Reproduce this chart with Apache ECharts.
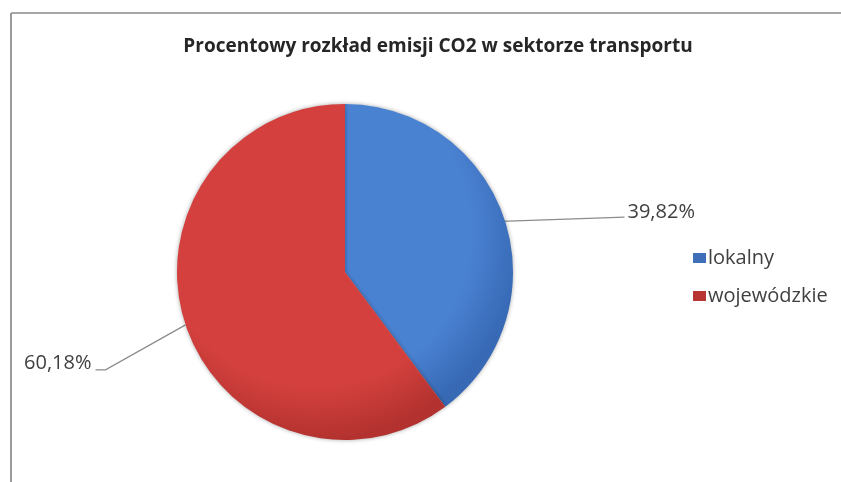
<!DOCTYPE html>
<html>
<head>
<meta charset="utf-8">
<script src="https://cdn.jsdelivr.net/npm/echarts@6/dist/echarts.min.js"></script>
<style>
html,body{margin:0;padding:0;background:#fff;}
#main{width:841px;height:482px;}
</style>
</head>
<body>
<div id="main"></div>
<script>
const titleText = 'Procentowy rozkład emisji CO2 w sektorze transportu';
const categories = ['lokalny', 'wojewódzkie'];
const values = [39.82, 60.18];
const labelTexts = ['39,82%', '60,18%'];

const CX = 345, CY = 272, R = 168;
const grad = (inner, outer) => ({
  type: 'radial', x: CX - 30, y: CY - 40, r: R + 40, global: true,
  colorStops: [{offset: 0, color: inner}, {offset: 0.75, color: inner}, {offset: 1, color: outer}]
});
const colors = [grad('#4a82d2', '#3769b5'), grad('#d3403d', '#b3322f')];
const legendColors = ['#3f6fb8', '#b83533'];

const chart = echarts.init(document.getElementById('main'));
chart.setOption({
  animation: false,
  backgroundColor: '#fff',
  title: {
    text: titleText, left: 433, top: 32, textAlign: 'center',
    textStyle: {fontFamily: 'Open Sans', fontSize: 19, fontWeight: 'bold', color: '#262626'}
  },
  legend: {
    orient: 'vertical', left: 688, top: 243, itemGap: 18,
    itemWidth: 13, itemHeight: 10, icon: 'rect',
    data: categories.map((c, i) => ({name: c, itemStyle: {color: legendColors[i]}})),
    textStyle: {fontFamily: 'Open Sans', fontSize: 20, color: '#404040', padding: [0, 0, 0, -3]}
  },
  graphic: [
    {type: 'line', shape: {x1: 11, y1: 13, x2: 841, y2: 13}, style: {stroke: '#8a8a8a', lineWidth: 1.5}},
    {type: 'line', shape: {x1: 11, y1: 13, x2: 11, y2: 482}, style: {stroke: '#9a9a9a', lineWidth: 2}}
  ],
  series: [{
    type: 'pie',
    center: [CX, CY],
    radius: R,
    startAngle: 90,
    clockwise: true,
    data: categories.map((c, i) => ({
      name: c, value: values[i],
      itemStyle: {color: colors[i]},
      label: {formatter: labelTexts[i]}
    })),
    itemStyle: {shadowBlur: 4, shadowColor: 'rgba(0,0,0,0.35)', borderWidth: 0},
    label: {
      show: true, position: 'outside',
      fontFamily: 'Open Sans', fontSize: 20, color: '#404040', letterSpacing: -0.3
    },
    labelLine: {show: true, smooth: false, length: 10, length2: 10, lineStyle: {color: '#8c8c8c', width: 1.3}},
    labelLayout: function (p) {
      const p0 = p.labelLinePoints[0];
      if (p.dataIndex === 0) {
        const p1 = [p0[0] + 4, p0[1] + 2];
        const p2 = [p0[0] + 120, p0[1] - 2];
        return {x: p2[0] + 3, y: p2[1] - 5, align: 'left', verticalAlign: 'middle', labelLinePoints: [[p0[0], p0[1] + 2], p1, p2]};
      } else {
        const p1 = [p0[0] - 80, p0[1] + 45];
        const p2 = [p1[0] - 10, p1[1]];
        return {x: p2[0] - 4, y: p2[1] - 7, align: 'right', verticalAlign: 'middle', labelLinePoints: [p0, p1, p2]};
      }
    },
    emphasis: {disabled: true}
  }]
});
</script>
</body>
</html>
